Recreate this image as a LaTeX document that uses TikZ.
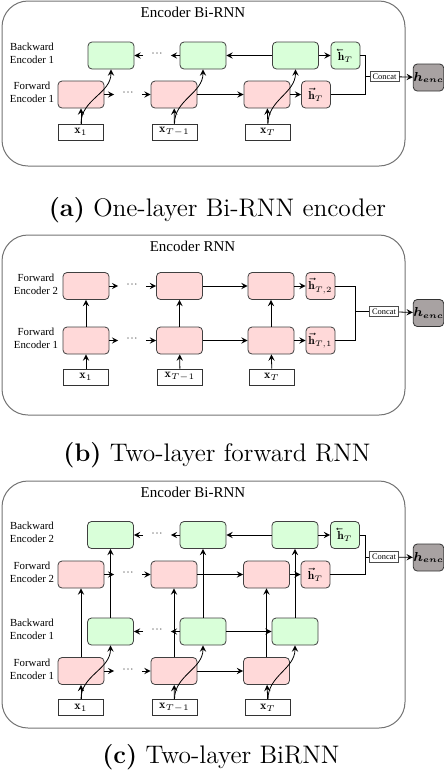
\RequirePackage{fix-cm}
\documentclass[tikz,border=0pt]{standalone}
\usepackage{amsmath}
\usepackage{amssymb}
\usepackage{graphicx}
\usepackage{fontspec}
\newfontfamily\figfont{Liberation Serif}
\usetikzlibrary{arrows,positioning}

\definecolor{encgray}{RGB}{168,162,162}
\DeclareMathSizes{5.8}{5.8}{4}{3}
\DeclareMathSizes{6}{6}{4.2}{3}
\DeclareMathSizes{6.5}{6.5}{4}{3}
\newcommand{\hback}[1]{\rlap{\reflectbox{$\vec{\phantom{\mathbf{h}}}$}}\mathbf{h}_{#1}}
\newcommand{\hfwd}[1]{\vec{\mathbf{h}}_{#1}}
\newcommand{\henc}{\boldsymbol{h_{enc}}}

\begin{document}
\begin{tikzpicture}[
        x=0.5pt, y=-0.5pt,
        fwd/.style={draw=black!75, fill=red!15, rounded corners=2pt, minimum width=23pt, minimum height=13.5pt, inner sep=0pt},
        bwd/.style={draw=black!75, fill=green!15, rounded corners=2pt, minimum width=23pt, minimum height=13.5pt, inner sep=0pt},
        hid/.style={minimum width=14.5pt, font=\fontsize{5.8}{6}\selectfont},
        inp/.style={draw=black!80, minimum width=22.5pt, minimum height=8pt, inner sep=0pt, font=\fontsize{6}{6}\selectfont},
        cat/.style={draw=black!70, minimum width=14.5pt, minimum height=5.2pt, inner sep=0pt, font=\figfont\fontsize{4.2}{4}\selectfont},
        enc/.style={draw=black!80, fill=encgray, rounded corners=2pt, minimum width=14.5pt, minimum height=13.5pt, inner sep=0pt, font=\fontsize{6.5}{7}\selectfont},
        panel/.style={draw=black!55, line width=0.5pt, rounded corners=13pt},
        title/.style={font=\figfont\fontsize{7.5}{9}\selectfont},
        lbl/.style={align=center, font=\figfont\fontsize{5.4}{6.5}\selectfont},
        caption/.style={font=\fontsize{12.7}{15}\selectfont},
        dots/.style={inner xsep=3.7pt, font=\figfont\fontsize{6}{6}\selectfont, text=black!60},
        arrow/.style={->,>=stealth, line width=0.4pt}
    ]
        \useasboundingbox (0,0) rectangle (444,778);

        % (a) One-layer Bi-RNN
        \draw[panel] (2,1) rectangle (405,166);
        \node[title] (ta) at (193,12) {Encoder Bi-RNN};
        \node[lbl] (lab1) at (32,53) {Backward\\Encoder 1};
        \node[lbl] (laf1) at (32,92) {Forward\\Encoder 1};

        \node[bwd] (ba1) at (111,55.5) {};
        \node[bwd] (ba2) at (203,55.5) {};
        \node[bwd] (ba3) at (295.5,55.5) {};
        \node[bwd, hid] (hab) at (345.5,55.5) {$\hback{T}$};

        \node[fwd] (fa1) at (81,94.5) {};
        \node[fwd] (fa2) at (174,94.5) {};
        \node[fwd] (fa3) at (267,94.5) {};
        \node[fwd, hid] (haf) at (316,94.5) {$\hfwd{T}$};

        \node[inp] (xa1) at (81,132) {$\mathbf{x}_1$};
        \node[inp] (xa2) at (174.5,132) {$\mathbf{x}_{T-1}$};
        \node[inp] (xa3) at (268,132) {$\mathbf{x}_T$};

        \node[dots] (dfa) at (128,94.5) {···};
        \node[dots] (dba) at (157,55.5) {···};
        \node[cat] (ca) at (384.5,76.5) {Concat};
        \node[enc] (ea) at (428.5,77.5) {$\henc$};

        \draw[arrow] (fa1) -- (dfa);
        \draw[arrow] (dfa) -- (fa2);
        \draw[arrow] (fa2) -- (fa3);
        \draw[arrow] (fa3) -- (haf);
        \draw[arrow] (ba3) -- (ba2);
        \draw[arrow] (ba2) -- (dba);
        \draw[arrow] (dba) -- (ba1);
        \draw[arrow] (ba3) -- (hab);
        \foreach \i in {1,2,3} {
            \draw[arrow] (xa\i) -- (fa\i);
            \draw[arrow] (xa\i.north) to[out=90,in=-90] (ba\i.south);
        }
        \draw (hab.east) -- ++(5,0) |- (haf.east);
        \draw (ca.west) -- ++(-5,0);
        \draw[arrow] (ca) -- (ea);

        \node[caption] (capa) at (217.5,210) {\textbf{(a)} One-layer Bi-RNN encoder};

        % (b) Two-layer forward RNN
        \draw[panel] (2,235) rectangle (405,415);
        \node[title] (tb) at (192.5,246) {Encoder RNN};
        \node[lbl] (lbf2) at (36,284) {Forward\\Encoder 2};
        \node[lbl] (lbf1) at (36,338) {Forward\\Encoder 1};

        \node[fwd] (fb21) at (86,286) {};
        \node[fwd] (fb22) at (179.5,286) {};
        \node[fwd] (fb23) at (271,286) {};
        \node[fwd, hid] (hb2) at (320.5,286) {$\hfwd{T,2}$};

        \node[fwd] (fb11) at (86,340.5) {};
        \node[fwd] (fb12) at (179.5,340.5) {};
        \node[fwd] (fb13) at (271,340.5) {};
        \node[fwd, hid] (hb1) at (320.5,340.5) {$\hfwd{T,1}$};

        \node[inp] (xb1) at (86,377) {$\mathbf{x}_1$};
        \node[inp] (xb2) at (180,377) {$\mathbf{x}_{T-1}$};
        \node[inp] (xb3) at (272,377) {$\mathbf{x}_T$};

        \node[dots] (dfb2) at (132,286) {···};
        \node[dots] (dfb1) at (132,340.5) {···};
        \node[cat] (cb) at (384,311.5) {Concat};
        \node[enc] (eb) at (428.5,313) {$\henc$};

        \foreach \l in {1,2} {
            \draw[arrow] (fb\l1) -- (dfb\l);
            \draw[arrow] (dfb\l) -- (fb\l2);
            \draw[arrow] (fb\l2) -- (fb\l3);
            \draw[arrow] (fb\l3) -- (hb\l);
        }
        \foreach \i in {1,2,3} {
            \draw[arrow] (xb\i) -- (fb1\i);
            \draw[arrow] (fb1\i) -- (fb2\i);
        }
        \draw (hb2.east) -- ++(20,0) |- (hb1.east);
        \draw (cb.west) -- ++(-14,0);
        \draw[arrow] (cb) -- (eb);

        \node[caption] (capb) at (217,455) {\textbf{(b)} Two-layer forward RNN};

        % (c) Two-layer BiRNN
        \draw[panel] (2,481) rectangle (405,728);
        \node[title] (tc) at (193,492) {Encoder Bi-RNN};
        \node[lbl] (lcb2) at (32,532) {Backward\\Encoder 2};
        \node[lbl] (lcf2) at (32,572.5) {Forward\\Encoder 2};
        \node[lbl] (lcb1) at (32,629.5) {Backward\\Encoder 1};
        \node[lbl] (lcf1) at (32,669.5) {Forward\\Encoder 1};

        \node[bwd] (bc21) at (110.5,535) {};
        \node[bwd] (bc22) at (203,535) {};
        \node[bwd] (bc23) at (295,535) {};
        \node[bwd, hid] (hcb) at (345,535) {$\hback{T}$};

        \node[fwd] (fc21) at (81,574.5) {};
        \node[fwd] (fc22) at (174,574.5) {};
        \node[fwd] (fc23) at (266.5,574.5) {};
        \node[fwd, hid] (hcf) at (315.5,574.5) {$\hfwd{T}$};

        \node[bwd] (bc11) at (110.5,631.5) {};
        \node[bwd] (bc12) at (203,631.5) {};
        \node[bwd] (bc13) at (295,631.5) {};

        \node[fwd] (fc11) at (81,671) {};
        \node[fwd] (fc12) at (174,671) {};
        \node[fwd] (fc13) at (266.5,671) {};

        \node[inp] (xc1) at (81,707.5) {$\mathbf{x}_1$};
        \node[inp] (xc2) at (174.5,707.5) {$\mathbf{x}_{T-1}$};
        \node[inp] (xc3) at (268,707.5) {$\mathbf{x}_T$};

        \node[dots] (dbc2) at (157,535) {···};
        \node[dots] (dfc2) at (128,574.5) {···};
        \node[dots] (dbc1) at (157,631.5) {···};
        \node[dots] (dfc1) at (128,671) {···};
        \node[cat] (cc) at (384,557) {Concat};
        \node[enc] (ec) at (428.5,557.5) {$\henc$};

        \foreach \l in {1,2} {
            \draw[arrow] (fc\l1) -- (dfc\l);
            \draw[arrow] (dfc\l) -- (fc\l2);
            \draw[arrow] (fc\l2) -- (fc\l3);
            \draw[arrow] (bc\l2) -- (dbc\l);
            \draw[arrow] (dbc\l) -- (bc\l1);
        }
        \draw[arrow] (bc23) -- (bc22);
        \draw[arrow] (bc12) -- (bc13);
        \draw[arrow] (fc23) -- (hcf);
        \draw[arrow] (bc23) -- (hcb);
        \foreach \i in {1,2,3} {
            \draw[arrow] (fc1\i) -- (fc2\i);
            \draw[arrow] (bc1\i) -- (bc2\i);
            \draw[arrow] (xc\i) -- (fc1\i);
            \draw[arrow] (xc\i.north) to[out=90,in=-90] (bc1\i.south);
        }
        \draw (hcb.east) -- ++(5,0) |- (hcf.east);
        \draw (cc.west) -- ++(-4,0);
        \draw[arrow] (cc) -- (ec);

        \node[caption] (capc) at (221,757) {\textbf{(c)} Two-layer BiRNN};
    \end{tikzpicture}
\end{document}
